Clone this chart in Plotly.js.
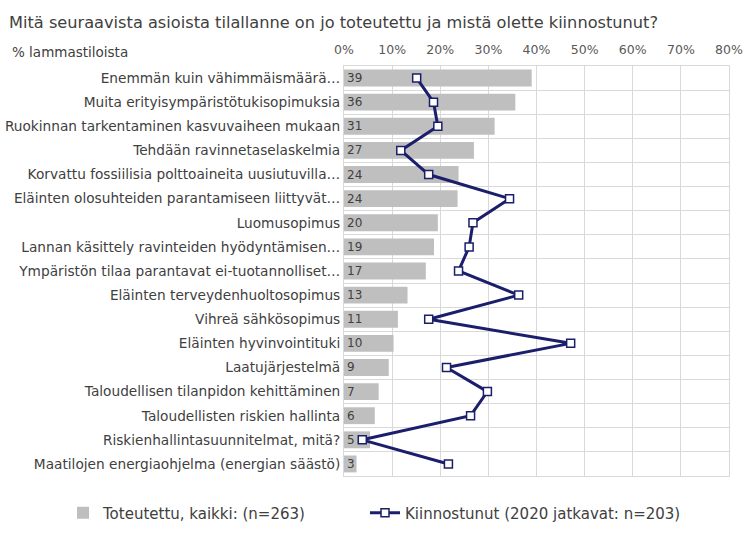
<!DOCTYPE html>
<html>
<head>
<meta charset="utf-8">
<script src="https://cdn.plot.ly/plotly-3.0.1.min.js"></script>
<style>html,body{margin:0;padding:0;background:#fff}#chart{width:755px;height:538px}</style>
</head>
<body>
<div id="chart"></div>
<script>
var categories = [
  "Enemmän kuin vähimmäismäärä…",
  "Muita erityisympäristötukisopimuksia",
  "Ruokinnan tarkentaminen kasvuvaiheen mukaan",
  "Tehdään ravinnetaselaskelmia",
  "Korvattu fossiilisia polttoaineita uusiutuvilla…",
  "Eläinten olosuhteiden parantamiseen liittyvät…",
  "Luomusopimus",
  "Lannan käsittely ravinteiden hyödyntämisen…",
  "Ympäristön tilaa parantavat ei-tuotannolliset…",
  "Eläinten terveydenhuoltosopimus",
  "Vihreä sähkösopimus",
  "Eläinten hyvinvointituki",
  "Laatujärjestelmä",
  "Taloudellisen tilanpidon kehittäminen",
  "Taloudellisten riskien hallinta",
  "Riskienhallintasuunnitelmat, mitä?",
  "Maatilojen energiaohjelma (energian säästö)"
];
var implemented = [39.0, 35.6, 31.3, 27.0, 23.8, 23.6, 19.5, 18.7, 17.0, 13.2, 11.2, 10.3, 9.3, 7.2, 6.4, 5.4, 2.6];
var implementedLabels = ["39","36","31","27","24","24","20","19","17","13","11","10","9","7","6","5","3"];
var interested = [15.1, 18.6, 19.5, 11.8, 17.6, 34.4, 26.8, 26.0, 23.8, 36.3, 17.6, 47.1, 21.3, 29.8, 26.3, 3.8, 21.7];
var xTicks = [0, 10, 20, 30, 40, 50, 60, 70, 80];
var xTickLabels = ["0%", "10%", "20%", "30%", "40%", "50%", "60%", "70%", "80%"];

var font = "DejaVu Sans, Verdana, sans-serif";
var traces = [
  {
    type: "bar", orientation: "h",
    name: "Toteutettu, kaikki: (n=263)",
    y: categories, x: implemented,
    text: implementedLabels,
    textposition: "inside", insidetextanchor: "start", constraintext: "none", textangle: 0,
    insidetextfont: {family: font, size: 12, color: "#404040"},
    marker: {color: "#bfbfbf"},
    width: 0.7,
    hoverinfo: "none",
    legend: "legend"
  },
  {
    type: "scatter", mode: "lines+markers",
    name: "Kiinnostunut (2020 jatkavat: n=203)",
    y: categories, x: interested,
    line: {color: "#1b1f6b", width: 3},
    marker: {symbol: "square", size: 8, color: "#ffffff", line: {color: "#1b1f6b", width: 1.5}},
    cliponaxis: false,
    hoverinfo: "none",
    legend: "legend2"
  }
];

var legendBase = {
  orientation: "h", xref: "container", yref: "container",
  xanchor: "left", y: 1 - 513/538, yanchor: "middle",
  font: {family: font, size: 15, color: "#404040"},
  bgcolor: "rgba(0,0,0,0)"
};

var layout = {
  width: 755, height: 538,
  margin: {l: 344, r: 26, t: 66, b: 62, autoexpand: false},
  paper_bgcolor: "#ffffff", plot_bgcolor: "#ffffff",
  font: {family: font, color: "#404040"},
  title: {
    text: "Mitä seuraavista asioista tilallanne on jo toteutettu ja mistä olette kiinnostunut?",
    font: {family: font, size: 16.2, color: "#404040"},
    xref: "container", x: 9/755, xanchor: "left",
    yref: "container", y: 1 - 22/538, yanchor: "middle"
  },
  xaxis: {
    side: "top", range: [0, 80], tickvals: xTicks, ticktext: xTickLabels,
    showgrid: true, gridcolor: "#d9d9d9", gridwidth: 1,
    zeroline: false, showline: true, linecolor: "#d9d9d9", mirror: true,
    ticks: "outside", ticklen: 6, tickcolor: "rgba(0,0,0,0)",
    tickfont: {family: font, size: 12.5, color: "#595959"}
  },
  yaxis: {
    type: "category", range: [16.5, -0.5],
    tickson: "boundaries", showgrid: true, gridcolor: "#d9d9d9", gridwidth: 1,
    showline: true, linecolor: "#d9d9d9", mirror: true,
    ticks: "", ticklen: 0,
    tickfont: {family: font, size: 13.7, color: "#404040"}
  },
  bargap: 0.3,
  showlegend: true,
  legend: Object.assign({}, legendBase, {x: 63/755}),
  legend2: Object.assign({}, legendBase, {x: 365/755}),
  annotations: [{
    text: "% lammastiloista", xref: "paper", yref: "paper",
    x: -334/385, y: 1 + 14/410, xanchor: "left", yanchor: "middle",
    showarrow: false, font: {family: font, size: 13.5, color: "#404040"}
  }]
};

Plotly.newPlot("chart", traces, layout, {displayModeBar: false, staticPlot: true});
</script>
</body>
</html>
